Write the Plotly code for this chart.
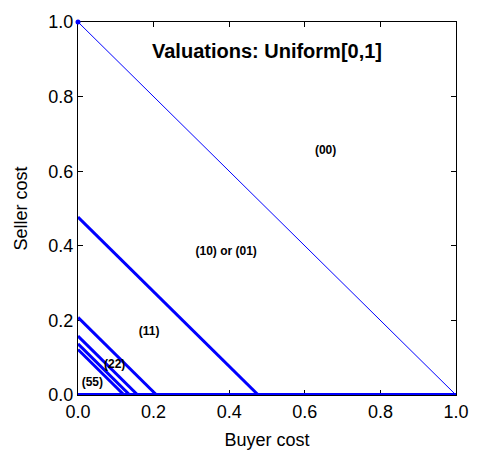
import plotly.graph_objects as go

# Boundary lines: intercepts (line from (0, c) to (c, 0))
thick_intercepts = [0.477, 0.208, 0.158, 0.137, 0.122]
diag_intercept = 1.0

# Region labels
region_labels = ["(00)", "(10) or (01)", "(11)", "(22)", "(55)"]
region_x = [0.655, 0.392, 0.188, 0.097, 0.038]
region_y = [0.655, 0.384, 0.168, 0.081, 0.031]

tick_vals = [0.0, 0.2, 0.4, 0.6, 0.8, 1.0]
tick_text = ["0.0", "0.2", "0.4", "0.6", "0.8", "1.0"]

BLUE = "#0000ff"
FONT = "Liberation Sans, Arial, Helvetica, sans-serif"

fig = go.Figure()

# thin diagonal
fig.add_trace(go.Scatter(x=[0, diag_intercept], y=[diag_intercept, 0], mode="lines",
                         line=dict(color=BLUE, width=1), showlegend=False, hoverinfo="skip"))
# endpoint dot at top
fig.add_trace(go.Scatter(x=[0], y=[diag_intercept], mode="markers",
                         marker=dict(color=BLUE, size=5), cliponaxis=False,
                         showlegend=False, hoverinfo="skip"))

# thick boundary lines
for c in thick_intercepts:
    fig.add_trace(go.Scatter(x=[0, c], y=[c, 0], mode="lines",
                             line=dict(color=BLUE, width=3), showlegend=False, hoverinfo="skip"))

# thick baseline along seller cost = 0
fig.add_trace(go.Scatter(x=[0, diag_intercept], y=[0, 0], mode="lines",
                         line=dict(color=BLUE, width=4), showlegend=False, hoverinfo="skip"))

# region labels
fig.add_trace(go.Scatter(x=region_x, y=region_y, mode="text", text=region_labels,
                         textfont=dict(family=FONT, size=12, color="black", weight="bold"),
                         showlegend=False, hoverinfo="skip"))

fig.add_annotation(x=0.5, y=0.922, xref="x", yref="y", text="<b>Valuations: Uniform[0,1]</b>",
                   showarrow=False, font=dict(family=FONT, size=20, color="black"))

axis_common = dict(
    range=[0, 1], tickvals=tick_vals, ticktext=tick_text,
    ticks="inside", ticklen=5, tickcolor="black", tickwidth=1,
    showline=True, linecolor="black", linewidth=1, mirror="ticks",
    showgrid=False, zeroline=False, layer="below traces",
    tickfont=dict(family=FONT, size=18, color="black"),
)

fig.update_layout(
    width=481, height=460,
    margin=dict(l=78, r=18, t=12, b=65),
    paper_bgcolor="white", plot_bgcolor="white",
    xaxis=dict(**axis_common, title=dict(text="Buyer cost", font=dict(family=FONT, size=18, color="black"), standoff=12)),
    yaxis=dict(**axis_common, title=dict(text="Seller cost", font=dict(family=FONT, size=18, color="black"), standoff=16)),
)

fig.write_html("out.html")
